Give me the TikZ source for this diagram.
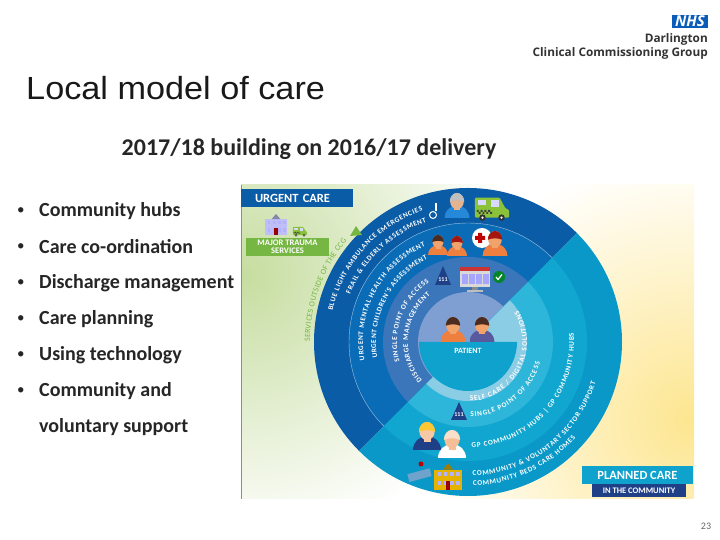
\documentclass[tikz,border=0pt]{standalone}
\usepackage{fontspec}
\setmainfont{Carlito}
\newfontfamily\titlefont{Liberation Sans}
\newfontfamily\logofont{Open Sans}
\usetikzlibrary{decorations.text}

\definecolor{darkone}{HTML}{0B5CA6}
\definecolor{darktwo}{HTML}{0A6BB6}
\definecolor{darkthree}{HTML}{3B75BA}
\definecolor{periwinkle}{HTML}{7F9FD3}
\definecolor{lightone}{HTML}{0A98C8}
\definecolor{lighttwo}{HTML}{10A6D0}
\definecolor{lightthree}{HTML}{2DB6D9}
\definecolor{paleblue}{HTML}{8CCDE6}
\definecolor{teal}{HTML}{0EA2CD}
\definecolor{navy}{HTML}{1F3F87}
\definecolor{leaf}{HTML}{76B743}
\definecolor{skin}{HTML}{F2A36B}
\definecolor{shirt}{HTML}{EF7F3F}
\definecolor{hairdark}{HTML}{4A2C20}
\definecolor{sage}{HTML}{C6DDA0}
\definecolor{butter}{HTML}{FDE690}
\definecolor{nhsblue}{HTML}{0A5CB8}
\definecolor{bedblue}{HTML}{6FA3CC}

\tikzset{
  banner/.style={font=\bfseries, text=white, inner sep=0pt, anchor=center},
  item/.style={anchor=west, inner sep=0pt, font=\bfseries\fontsize{20}{22}\selectfont, text=black!85},
  dot/.style={anchor=west, inner sep=0pt, font=\fontsize{15}{16}\selectfont, text=black!85},
  logotext/.style={anchor=east, inner sep=0pt, font=\logofont\bfseries\fontsize{11.8}{14}\selectfont, text=black!80}
}

% curved label: radius, start angle, end angle, text
\newcommand{\arclabel}[4]{
  \path[decorate,decoration={text along path,text align={fit to path},
    text={|\fontsize{7.2}{8}\selectfont\bfseries\color{white}|#4}}]
    (#2:#1) arc[start angle=#2,end angle=#3,radius=#1];
}
% person: x, y, scale, shirt, hair, skin
\newcommand{\drawperson}[6]{
  \begin{scope}[shift={(#1,#2)},scale=#3]
    \fill[#4] (-10,0) to[out=90,in=180] (0,10) to[out=0,in=90] (10,0) -- cycle;
    \fill[#6] (-2.5,6) rectangle (2.5,11);
    \fill[#6] (0,13.5) ellipse (5.5 and 6.5);
    \fill[#5] (-5.8,13) arc[start angle=180,end angle=0,x radius=5.8,y radius=7] to[bend right=20] (-5.8,13);
  \end{scope}
}
% green van: x, y, scale
\newcommand{\drawvan}[3]{
  \begin{scope}[shift={(#1,#2)},scale=#3]
    \fill[leaf!85!yellow,rounded corners=1pt] (-18,-8) -- (-18,13) -- (8,13) -- (14,2) -- (18,0) -- (18,-8) -- cycle;
    \fill[white!85!blue] (-1,10) rectangle (7,3);
    \fill[white!85!blue] (-15,10) rectangle (-6,5);
    \foreach \i in {0,2,4,6}
      \fill[black!75] (-16+\i*2,0) rectangle ++(2,-2) (-14+\i*2,-2) rectangle ++(2,-2);
    \fill[black!80] (-10,-8) circle (3.4) (10,-8) circle (3.4);
    \fill[white] (-10,-8) circle (1.3) (10,-8) circle (1.3);
  \end{scope}
}
% building: x, y, scale, wall
\newcommand{\drawhouse}[4]{
  \begin{scope}[shift={(#1,#2)},scale=#3]
    \fill[#4] (-13,-12) rectangle (13,7);
    \fill[#4!70!black] (-5,7) -- (0,13) -- (5,7) -- cycle;
    \foreach \px in {-10,-4,2,8} \foreach \py in {-8,1}
      \fill[blue!30!white] (\px,\py) rectangle ++(3.5,4);
    \fill[red!60!black] (-2,-12) rectangle (2,-4);
  \end{scope}
}

\begin{document}
\begin{tikzpicture}[x=1pt,y=1pt]
  \useasboundingbox (0,0) rectangle (720,540);

  % header
  \node[anchor=west,inner sep=0pt,xscale=1.07,font=\titlefont\fontsize{32}{34}\selectfont,text=black!90] (title) at (26,452) {Local model of care};
  \node[anchor=center,inner sep=0pt,font=\bfseries\fontsize{24}{26}\selectfont,text=black!85] (subtitle) at (309,391) {2017/18 building on 2016/17 delivery};

  % logo
  \node[fill=nhsblue,text=white,inner sep=0pt,minimum width=36,minimum height=13,font=\logofont\bfseries\itshape\fontsize{15}{15}\selectfont] (nhs) at (690,518.5) {NHS};
  \node[logotext] (ccgname) at (708,500.5) {Darlington};
  \node[logotext] (ccggroup) at (708,487) {Clinical Commissioning Group};

  % bullet list
  \foreach \n/\ypos/\words in {1/329/Community hubs,2/293/Care co-ordination,3/257/Discharge management,4/221/Care planning,5/185/Using technology,6/149/Community and} {
    \node[dot] (bullet\n) at (17,\ypos) {•};
    \node[item] (entry\n) at (39,\ypos) {\words};
  }
  \node[item] (entry7) at (39,113) {voluntary support};
  \node[inner sep=0pt,font=\fontsize{10}{12}\selectfont,text=black!60] (pagenum) at (706,14) {23};

  % picture background
  \begin{scope}
    \clip (241,41) rectangle (694,355);
    \shade[inner color=sage,outer color=white] (245,265) circle (270);
    \shade[inner color=butter,outer color=white] (690,120) circle (270);
  \end{scope}
  \draw[black!45,line width=0.6pt] (241,41) -- (241,355);

  % wheel
  \begin{scope}[shift={(468,198)}]
    \foreach \r/\c in {154/darkone,119/darktwo,85/darkthree,50/periwinkle}
      \fill[\c] (45:\r) arc[start angle=45,end angle=225,radius=\r] -- cycle;
    \foreach \r/\c in {154/lightone,119/lighttwo,85/lightthree,59/paleblue}
      \fill[\c] (45:\r) arc[start angle=45,end angle=-135,radius=\r] -- cycle;
    \draw[white!60!darktwo,line width=0.4pt] (45:119) arc[start angle=45,end angle=225,radius=119];

    % patient
    \fill[teal] (-49,0) rectangle (49,-1) (-49,0) arc[start angle=180,end angle=360,radius=49] -- cycle;
    \drawperson{-15}{0}{1.25}{shirt}{hairdark}{skin}
    \drawperson{14}{0}{1.25}{black!10!blue!30!gray}{hairdark}{skin}
    \node[inner sep=0pt,font=\bfseries\fontsize{8}{9}\selectfont,text=white] (patient) at (0,-9) {PATIENT};

    % upper half labels
    \arclabel{139}{167}{109}{BLUE LIGHT AMBULANCE EMERGENCIES}
    \arclabel{127}{158}{109}{FRAIL {\&} ELDERLY ASSESSMENT}
    \arclabel{105}{190}{114}{URGENT MENTAL HEALTH ASSESSMENT}
    \arclabel{92}{190}{116}{URGENT CHILDREN'S ASSESSMENT}
    \arclabel{71}{196}{123}{SINGLE POINT OF ACCESS}
    \arclabel{60}{220}{129}{DISCHARGE MANAGEMENT}
    \path[decorate,decoration={text along path,text align={fit to path},
      text={|\fontsize{8}{9}\selectfont\color{leaf}|SERVICES OUTSIDE OF THE CCG}}]
      (180:158) arc[start angle=180,end angle=140,radius=158];
    \fill[leaf] (-112,116) -- (-106,107) -- (-118,106) -- cycle;

    % lower half labels
    \arclabel{59}{-88}{32}{SELF CARE / DIGITAL SOLUTIONS}
    \arclabel{75}{-88}{-16}{SINGLE POINT OF ACCESS}
    \arclabel{106}{-88}{5}{GP COMMUNITY HUBS {\textbar} GP COMMUNITY HUBS}
    \arclabel{134}{-88}{-17.5}{COMMUNITY {\&} VOLUNTARY SECTOR SUPPORT}
    \arclabel{144}{-88}{-41.6}{COMMUNITY BEDS CARE HOMES}

    % top row icons
    \draw[white,line width=1pt] (-35,127) circle (3.5);
    \fill[white] (-33,131) rectangle (-31,139);
    \drawperson{-11}{124}{1.25}{blue!45!cyan!70!gray}{black!25}{black!10!skin!70!white}
    \drawvan{24}{132}{0.95}

    % middle row icons
    \drawperson{-30}{87}{1}{shirt}{hairdark}{skin}
    \drawperson{-11}{86}{1}{shirt}{red!50!hairdark}{skin}
    \fill[white] (14,104) circle (10);
    \fill[red!75!black] (7,102) rectangle (17,106) (10,99) rectangle (14,109);
    \drawperson{27}{86}{1.25}{shirt}{red!50!hairdark}{skin}

    % access row icons
    \fill[navy] (-33,57) -- (-17,57) -- (-25,76) -- cycle;
    \node[inner sep=0pt,font=\bfseries\fontsize{6}{6}\selectfont,text=white] (onetop) at (-25,62) {111};
    \fill[black!15] (-8,55) rectangle (22,75);
    \fill[red!60!gray] (-8,71) rectangle (22,75);
    \foreach \i in {0,1,2,3}
      \fill[blue!35!white] (-6+\i*7,58) rectangle ++(5.5,10);
    \fill[black!45] (4,51) rectangle (10,55);
    \fill[black!25] (-1,50) rectangle (15,51.5);
    \fill[green!50!black!80!teal] (31,65) circle (6);
    \draw[white,line width=1.2pt] (28,65) -- (30,62.5) -- (34,67.5);

    \fill[navy] (-17,-78) -- (-1,-78) -- (-9,-60) -- cycle;
    \node[inner sep=0pt,font=\bfseries\fontsize{6}{6}\selectfont,text=white] (onebottom) at (-9,-73) {111};

    % community icons
    \drawperson{-41}{-108}{1.4}{navy}{yellow!50!orange!80!white}{skin!60!white}
    \drawperson{-16}{-116}{1.4}{white}{skin!35!white}{skin!70!white}
    \drawhouse{-20}{-135}{1.05}{orange!45!yellow!90!black}
    \fill[bedblue,rotate around={15:(-48,-133)}] (-60,-137) rectangle (-37,-129);
    \fill[red!75!black] (-47,-122) circle (2.5);
  \end{scope}

  % urgent care key
  \node[banner,fill=darkone,text width=84,inner xsep=14,minimum height=18,align=left,font=\bfseries\fontsize{12.5}{13}\selectfont] (urgent) at (297,342) {URGENT CARE};
  \drawhouse{276}{315}{0.85}{black!12!blue!25!white}
  \drawvan{300}{308}{0.4}
  \node[banner,fill=leaf,minimum width=83,minimum height=18,align=center,font=\bfseries\fontsize{8.5}{8}\selectfont] (trauma) at (287.5,293) {MAJOR TRAUMA\\SERVICES};

  % planned care key
  \node[banner,fill=teal,minimum width=111,minimum height=18,font=\bfseries\fontsize{12.5}{13}\selectfont] (planned) at (637.5,65) {PLANNED CARE};
  \node[banner,fill=navy,minimum width=94,minimum height=13,font=\bfseries\fontsize{8.5}{9}\selectfont] (community) at (639,49.5) {IN THE COMMUNITY};
\end{tikzpicture}
\end{document}
